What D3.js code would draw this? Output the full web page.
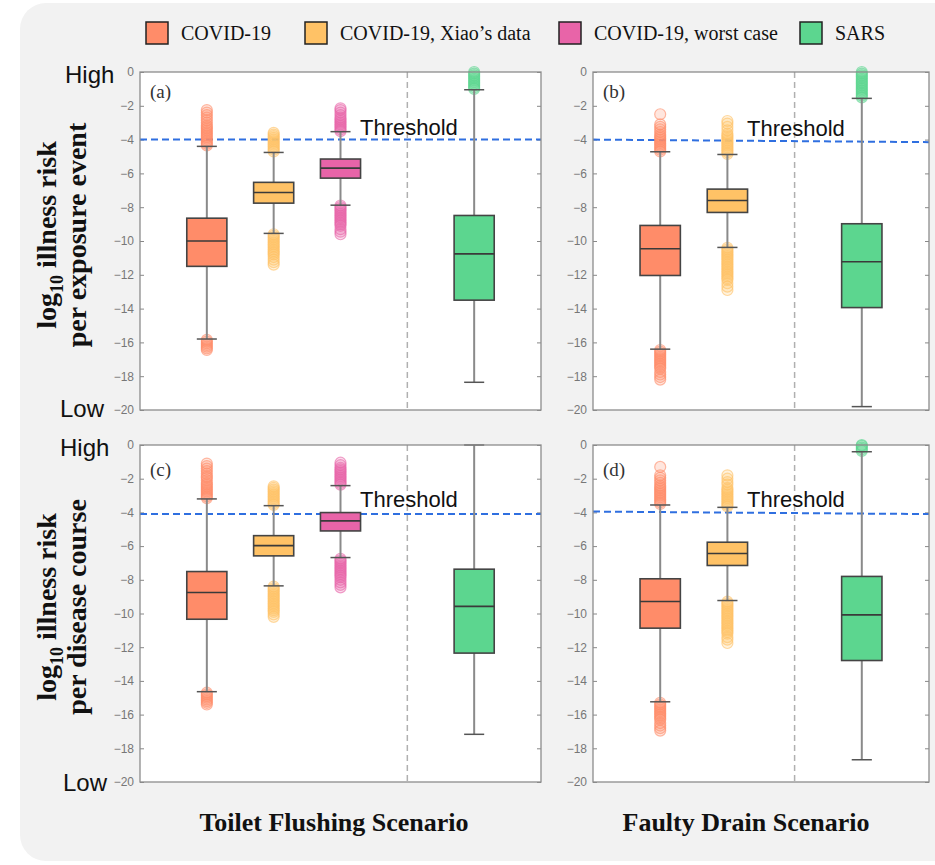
<!DOCTYPE html>
<html><head><meta charset="utf-8">
<script src="https://cdn.jsdelivr.net/npm/d3@7"></script>
<style>body{margin:0;background:#fff}</style>
</head><body><svg id="c" width="935" height="865"></svg>
<script>
// ---------- data ----------
const categories = ["COVID-19", "COVID-19, Xiao\u2019s data", "COVID-19, worst case", "SARS"];
const colors = ["#FF8C69", "#FFC266", "#E864A8", "#5CD68F"];
const yTicks = [0, -2, -4, -6, -8, -10, -12, -14, -16, -18, -20];
const panelLabels = ["(a)", "(b)", "(c)", "(d)"];
const scenarios = ["Toilet Flushing Scenario", "Faulty Drain Scenario"];
const rowTitleLine2 = ["per exposure event", "per disease course"];
const thresholdLabel = "Threshold";
// threshold line value at left and right end of each panel
const thresholds = [[-4, -4], [-4, -4.15], [-4.1, -4.1], [-3.95, -4.1]];

// box stats: [category, lowerWhisker, q1, median, q3, upperWhisker]
const boxesA = [[0, -15.8, -11.5, -10.0, -8.65, -4.4], [1, -9.55, -7.76, -7.13, -6.53, -4.76], [2, -7.88, -6.28, -5.69, -5.15, -3.53], [3, -18.36, -13.5, -10.76, -8.49, -1.05]];
const boxesB = [[0, -16.4, -12.04, -10.46, -9.08, -4.72], [1, -10.38, -8.31, -7.6, -6.93, -4.88], [3, -19.8, -13.94, -11.23, -8.98, -1.56]];
const boxesC = [[0, -14.64, -10.34, -8.75, -7.51, -3.2], [1, -8.36, -6.58, -5.97, -5.38, -3.6], [2, -6.68, -5.1, -4.5, -4.01, -2.41], [3, -17.17, -12.35, -9.58, -7.37, 0]];
const boxesD = [[0, -15.24, -10.87, -9.29, -7.94, -3.56], [1, -9.23, -7.15, -6.44, -5.77, -3.7], [3, -18.68, -12.79, -10.08, -7.8, -0.4]];

// outliers, same order as boxes
const outliersA = [
  [-4.35,-4.25,-4.15,-4.05,-3.95,-3.85,-3.75,-3.65,-3.55,-3.45,-3.35,-3.25,-3.15,-3.0,-2.85,-2.7,-2.55,-2.4,-2.25, -15.85,-15.95,-16.05,-16.15,-16.25,-16.35,-16.45],
  [-4.7,-4.6,-4.5,-4.4,-4.3,-4.2,-4.1,-4.0,-3.9,-3.8,-3.7,-3.6, -9.6,-9.7,-9.8,-9.9,-10.0,-10.1,-10.2,-10.3,-10.4,-10.5,-10.6,-10.7,-10.8,-10.95,-11.1,-11.25,-11.4],
  [-3.5,-3.4,-3.3,-3.2,-3.1,-3.0,-2.9,-2.8,-2.7,-2.55,-2.4,-2.25,-2.15, -7.9,-8.0,-8.1,-8.2,-8.3,-8.4,-8.5,-8.6,-8.7,-8.8,-8.9,-9.0,-9.1,-9.3,-9.45,-9.6],
  [-1.0,-0.9,-0.8,-0.7,-0.6,-0.5,-0.4,-0.3,-0.2,-0.1,0]
];
const outliersB = [
  [-4.7,-4.6,-4.5,-4.4,-4.3,-4.2,-4.1,-4.0,-3.9,-3.8,-3.7,-3.55,-3.4,-3.25,-3.1,-2.5, -16.45,-16.55,-16.65,-16.75,-16.85,-16.95,-17.05,-17.15,-17.25,-17.35,-17.45,-17.55,-17.75,-17.9,-18.05,-18.2],
  [-4.85,-4.75,-4.65,-4.55,-4.45,-4.35,-4.25,-4.15,-4.05,-3.95,-3.85,-3.75,-3.65,-3.45,-3.25,-3.05,-2.9, -10.4,-10.5,-10.6,-10.7,-10.8,-10.9,-11.0,-11.1,-11.2,-11.3,-11.4,-11.5,-11.6,-11.7,-11.8,-11.9,-12.0,-12.1,-12.2,-12.3,-12.5,-12.7,-12.9],
  [-1.5,-1.4,-1.3,-1.2,-1.1,-1.0,-0.9,-0.8,-0.7,-0.6,-0.5,-0.4,-0.3,-0.2,-0.1,0]
];
const outliersC = [
  [-3.15,-3.05,-2.95,-2.85,-2.75,-2.65,-2.55,-2.45,-2.35,-2.25,-2.1,-1.95,-1.85,-1.7,-1.55,-1.4,-1.25,-1.1, -14.7,-14.8,-14.9,-15.0,-15.1,-15.2,-15.3,-15.4],
  [-3.55,-3.45,-3.35,-3.25,-3.15,-3.05,-2.95,-2.85,-2.75,-2.65,-2.55,-2.45, -8.4,-8.5,-8.6,-8.7,-8.8,-8.9,-9.0,-9.1,-9.2,-9.3,-9.4,-9.5,-9.6,-9.7,-9.8,-9.9,-10.05,-10.2],
  [-2.35,-2.25,-2.15,-2.05,-1.95,-1.85,-1.75,-1.65,-1.55,-1.45,-1.35,-1.2,-1.05, -6.75,-6.85,-6.95,-7.05,-7.15,-7.25,-7.35,-7.45,-7.55,-7.65,-7.75,-7.85,-8.0,-8.15,-8.3,-8.45],
  []
];
const outliersD = [
  [-3.5,-3.4,-3.3,-3.2,-3.1,-3.0,-2.9,-2.8,-2.7,-2.6,-2.5,-2.4,-2.25,-2.1,-1.95,-1.8,-1.3, -15.3,-15.4,-15.5,-15.6,-15.7,-15.8,-15.9,-16.0,-16.1,-16.2,-16.3,-16.5,-16.65,-16.8,-16.95],
  [-3.65,-3.55,-3.45,-3.35,-3.25,-3.15,-3.05,-2.95,-2.85,-2.75,-2.65,-2.55,-2.35,-2.2,-2.0,-1.8, -9.3,-9.4,-9.5,-9.6,-9.7,-9.8,-9.9,-10.0,-10.1,-10.2,-10.3,-10.4,-10.5,-10.6,-10.7,-10.8,-10.9,-11.0,-11.1,-11.2,-11.4,-11.55,-11.75],
  [-0.35,-0.25,-0.15,-0.05,0]
];

// ---------- layout ----------
const svg = d3.select("#c");
svg.append("rect").attr("x", 20).attr("y", 3).attr("width", 940).attr("height", 858).attr("rx", 26).attr("fill", "#f2f2f2");

const slotsLeft = [1, 2, 3, 5], slotsRight = [1, 2, null, 4];
const panels = [
  {x0: 140, x1: 541, y0: 72, y1: 410, n: 6, slots: slotsLeft, div: 4, boxes: boxesA, out: outliersA, lab: [150, 98], thr: [360, 135]},
  {x0: 593, x1: 929, y0: 72, y1: 410, n: 5, slots: slotsRight, div: 3, boxes: boxesB, out: outliersB, lab: [603, 98], thr: [747, 136]},
  {x0: 140, x1: 541, y0: 445, y1: 782, n: 6, slots: slotsLeft, div: 4, boxes: boxesC, out: outliersC, lab: [150, 476], thr: [360, 507]},
  {x0: 593, x1: 929, y0: 445, y1: 782, n: 5, slots: slotsRight, div: 3, boxes: boxesD, out: outliersD, lab: [603, 476], thr: [747, 507]}
];

panels.forEach((p, pi) => {
  const x = d3.scaleLinear().domain([0, p.n]).range([p.x0, p.x1]);
  const y = d3.scaleLinear().domain([-20, 0]).range([p.y1, p.y0]);
  const g = svg.append("g");
  const bw = (x(1) - x(0)) * 0.6;
  const cw = (x(1) - x(0)) * 0.3;

  g.append("rect").attr("x", p.x0).attr("y", p.y0).attr("width", p.x1 - p.x0).attr("height", p.y1 - p.y0).attr("fill", "#fff");

  // axes
  const ax = g.append("g").attr("transform", `translate(${p.x0},0)`)
    .call(d3.axisLeft(y).tickValues(yTicks).tickSize(-4).tickPadding(6).tickFormat(d3.format("d")));
  ax.select(".domain").remove();
  ax.selectAll("line").attr("stroke", "#888");
  ax.selectAll("text").attr("fill", "#777").style("font-family", "Liberation Sans, Arial, sans-serif").style("font-size", "12px");
  const axr = g.append("g").attr("transform", `translate(${p.x1},0)`)
    .call(d3.axisRight(y).tickValues(yTicks).tickSize(-4).tickFormat(""));
  axr.select(".domain").remove();
  axr.selectAll("line").attr("stroke", "#888");

  // divider
  g.append("line").attr("x1", x(p.div)).attr("x2", x(p.div)).attr("y1", p.y0).attr("y2", p.y1)
    .attr("stroke", "#b0b0b0").attr("stroke-width", 1.5).attr("stroke-dasharray", "6,4");

  // threshold
  g.append("line").attr("x1", p.x0).attr("x2", p.x1).attr("y1", y(thresholds[pi][0])).attr("y2", y(thresholds[pi][1]))
    .attr("stroke", "#2F6FE0").attr("stroke-width", 2).attr("stroke-dasharray", "7,4");
  g.append("text").attr("x", p.thr[0]).attr("y", p.thr[1]).text(thresholdLabel)
    .style("font-family", "Liberation Sans, Arial, sans-serif").style("font-size", "22px").attr("fill", "#111");

  // panel label
  g.append("text").attr("x", p.lab[0]).attr("y", p.lab[1]).text(panelLabels[pi])
    .style("font-family", "Liberation Serif, Times New Roman, serif").style("font-size", "19px").attr("fill", "#333");

  // outliers
  p.boxes.forEach((b, bi) => {
    const cx = x(p.slots[b[0]]);
    g.append("g").selectAll("circle").data(p.out[bi]).join("circle")
      .attr("cx", cx).attr("cy", d => y(d)).attr("r", 5.5)
      .attr("fill", colors[b[0]]).attr("fill-opacity", 0.22)
      .attr("stroke", colors[b[0]]).attr("stroke-opacity", 0.6).attr("stroke-width", 1.2);
  });

  // boxes
  p.boxes.forEach(b => {
    const cx = x(p.slots[b[0]]);
    const bg = g.append("g");
    bg.append("line").attr("x1", cx).attr("x2", cx).attr("y1", y(b[1])).attr("y2", y(b[5]))
      .attr("stroke", "#8a8a8a").attr("stroke-width", 2);
    [b[1], b[5]].forEach(v => bg.append("line").attr("x1", cx - cw / 2).attr("x2", cx + cw / 2)
      .attr("y1", y(v)).attr("y2", y(v)).attr("stroke", "#555").attr("stroke-width", 1.5));
    bg.append("rect").attr("x", cx - bw / 2).attr("width", bw).attr("y", y(b[4])).attr("height", y(b[2]) - y(b[4]))
      .attr("fill", colors[b[0]]).attr("stroke", "#444").attr("stroke-width", 1.6);
    bg.append("line").attr("x1", cx - bw / 2).attr("x2", cx + bw / 2).attr("y1", y(b[3])).attr("y2", y(b[3]))
      .attr("stroke", "#3a3a3a").attr("stroke-width", 1.6);
  });

  // border
  g.append("rect").attr("x", p.x0).attr("y", p.y0).attr("width", p.x1 - p.x0).attr("height", p.y1 - p.y0)
    .attr("fill", "none").attr("stroke", "#8c8c8c").attr("stroke-width", 1.3);
});

// High / Low labels
const sans = "Liberation Sans, Arial, sans-serif", serif = "Liberation Serif, Times New Roman, serif";
[[65, 83, "High"], [60, 417, "Low"], [60, 456, "High"], [63, 791, "Low"]].forEach(t =>
  svg.append("text").attr("x", t[0]).attr("y", t[1]).text(t[2]).style("font-family", sans).style("font-size", "24px").attr("fill", "#111"));

// row titles
[235, 607].forEach((cy, ri) => {
  const t1 = svg.append("text").attr("transform", `translate(56,${cy}) rotate(-90)`).attr("text-anchor", "middle")
    .style("font-family", serif).style("font-size", "28px").style("font-weight", "bold").attr("fill", "#111");
  t1.append("tspan").text("log");
  t1.append("tspan").text("10").style("font-size", "18px").attr("dy", 7);
  t1.append("tspan").text(" illness risk").attr("dy", -7);
  svg.append("text").attr("transform", `translate(86,${cy}) rotate(-90)`).attr("text-anchor", "middle")
    .style("font-family", serif).style("font-size", "28px").style("font-weight", "bold").attr("fill", "#111").text(rowTitleLine2[ri]);
});

// scenario titles
[[334, scenarios[0]], [746, scenarios[1]]].forEach(t =>
  svg.append("text").attr("x", t[0]).attr("y", 831).attr("text-anchor", "middle").text(t[1])
    .style("font-family", serif).style("font-size", "26px").style("font-weight", "bold").attr("fill", "#111"));

// legend
const legX = [146, 305, 559, 800];
categories.forEach((c, i) => {
  svg.append("rect").attr("x", legX[i]).attr("y", 22).attr("width", 22).attr("height", 22)
    .attr("fill", colors[i]).attr("stroke", "#222").attr("stroke-width", 1.5);
  svg.append("text").attr("x", legX[i] + 35).attr("y", 40).text(c)
    .style("font-family", serif).style("font-size", "20px").attr("fill", "#111");
});
</script></body></html>
